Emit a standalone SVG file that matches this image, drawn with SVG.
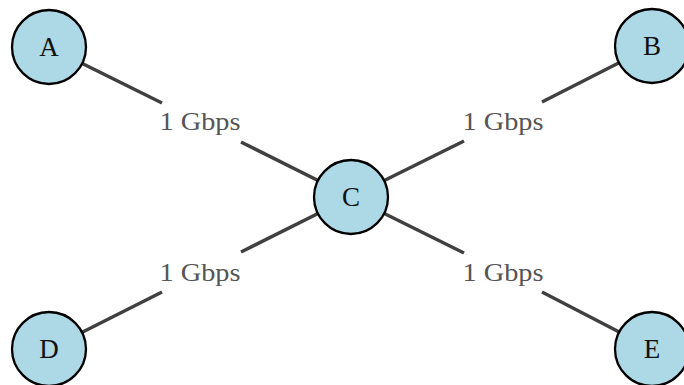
<svg xmlns="http://www.w3.org/2000/svg" width="684" height="385" viewBox="0 0 684 385">
  <style>
    .link { stroke: #404040; stroke-width: 3.4; fill: none; }
    .node circle { fill: #add8e6; stroke: #000; stroke-width: 2.3; }
    .node text { font-family: "Liberation Serif", serif; font-size: 27px; fill: #111; text-anchor: middle; }
    .lbl { font-family: "Liberation Serif", serif; font-size: 26px; fill: #555; text-anchor: middle; }
  </style>
  <rect width="684" height="385" fill="#fff"/>
  <g id="links">
    <!-- A - C -->
    <line class="link" x1="49" y1="47" x2="162" y2="103"/>
    <line class="link" x1="241" y1="142" x2="351" y2="197"/>
    <!-- B - C -->
    <line class="link" x1="652" y1="46" x2="542" y2="102"/>
    <line class="link" x1="464" y1="141" x2="351" y2="197"/>
    <!-- D - C -->
    <line class="link" x1="49" y1="349" x2="162" y2="292"/>
    <line class="link" x1="241" y1="252" x2="351" y2="197"/>
    <!-- E - C -->
    <line class="link" x1="652" y1="349" x2="542" y2="292"/>
    <line class="link" x1="464" y1="253" x2="351" y2="197"/>
    <text class="lbl" x="200" y="130" textLength="81" lengthAdjust="spacingAndGlyphs">1 Gbps</text>
    <text class="lbl" x="503" y="130" textLength="81" lengthAdjust="spacingAndGlyphs">1 Gbps</text>
    <text class="lbl" x="200" y="281" textLength="81" lengthAdjust="spacingAndGlyphs">1 Gbps</text>
    <text class="lbl" x="503" y="281" textLength="81" lengthAdjust="spacingAndGlyphs">1 Gbps</text>
  </g>
  <g id="node-A" class="node"><circle cx="49" cy="47" r="37"/><text x="49" y="56">A</text></g>
  <g id="node-B" class="node"><circle cx="652" cy="46" r="37"/><text x="652" y="55">B</text></g>
  <g id="node-C" class="node"><circle cx="351" cy="197" r="37"/><text x="351" y="206">C</text></g>
  <g id="node-D" class="node"><circle cx="49" cy="349" r="37"/><text x="49" y="358">D</text></g>
  <g id="node-E" class="node"><circle cx="652" cy="349" r="37"/><text x="652" y="358">E</text></g>
</svg>
